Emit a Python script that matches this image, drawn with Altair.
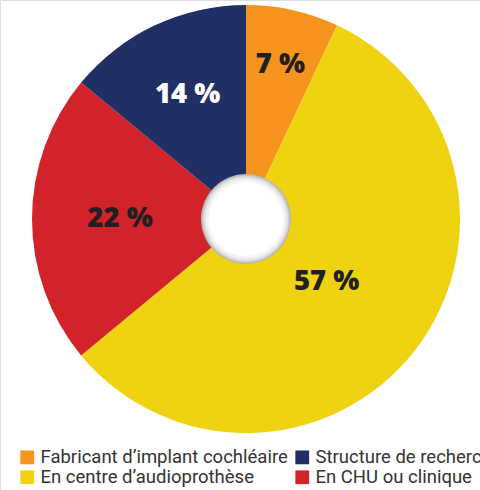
import altair as alt
import pandas as pd

categories = ["Fabricant d’implant cochléaire", "En centre d’audioprothèse",
              "En CHU ou clinique", "Structure de recherche"]
values = [7, 57, 22, 14]
colors = ["#F7941D", "#EFD311", "#D2232A", "#202F64"]
label_colors = ["#231F20", "#231F20", "#231F20", "#FFFFFF"]
label_radii = [158, 102, 126, 137]
# legend grid is filled column by column: TL, BL, TR, BR
legend_order = [categories[0], categories[1], categories[3], categories[2]]
legend_colors = [colors[0], colors[1], colors[3], colors[2]]

df = pd.DataFrame({"cat": categories, "value": values, "idx": list(range(len(values)))})

CX, CY = 246, 219
R = 214

color = alt.Color(
    "cat:N",
    scale=alt.Scale(domain=legend_order, range=legend_colors),
    legend=alt.Legend(
        orient="none", legendX=18, legendY=448, columns=2, title=None,
        padding=0, symbolType="square", symbolSize=190, symbolStrokeWidth=0,
        labelFont="Roboto", labelFontSize=18.5, labelColor="#333333",
        labelLimit=500, columnPadding=5, rowPadding=1, symbolOffset=0,
        labelOffset=4,
    ),
)

base = alt.Chart(df)
pie = base.mark_arc(outerRadius=R, innerRadius=0, strokeWidth=0).encode(
    theta=alt.Theta("value:Q", stack=True, scale=alt.Scale(domain=[0, 100])),
    color=color,
    order=alt.Order("idx:Q"),
    x=alt.value(CX), y=alt.value(CY),
)

layers = [pie]
for i, c in enumerate(categories):
    t = (
        base.transform_window(cum="sum(value)", sort=[alt.SortField("idx")])
        .transform_calculate(mid="datum.cum - datum.value / 2",
                             label="datum.value + ' %'")
        .transform_filter(alt.datum.cat == c)
        .mark_text(radius=label_radii[i], font="Open Sans", fontWeight=800,
                   fontSize=27.5, color=label_colors[i], baseline="middle",
                   align="center")
        .encode(
            theta=alt.Theta("mid:Q", stack=None, scale=alt.Scale(domain=[0, 100])),
            text="label:N",
            x=alt.value(CX), y=alt.value(CY),
        )
    )
    layers.append(t)

ring = pd.DataFrame({"a": [1]})
for r, col in [(45, "#b4b4b4"), (44, "#c6c6c6"), (43, "#d6d6d6"), (42, "#e3e3e3"),
               (40.5, "#eeeeee"), (39, "#f6f6f6"), (37, "#ffffff")]:
    layers.append(
        alt.Chart(ring).mark_arc(radius=r, theta=0, theta2=6.2832, color=col, strokeWidth=0)
        .encode(x=alt.value(CX), y=alt.value(CY))
    )

chart = alt.layer(*layers).properties(
    width=480, height=490, padding=0,
    autosize=alt.AutoSizeParams(type="none"),
).configure_view(stroke=None).configure(background="white")

chart.save("out.html", embed_options={"renderer": "svg", "actions": False})
